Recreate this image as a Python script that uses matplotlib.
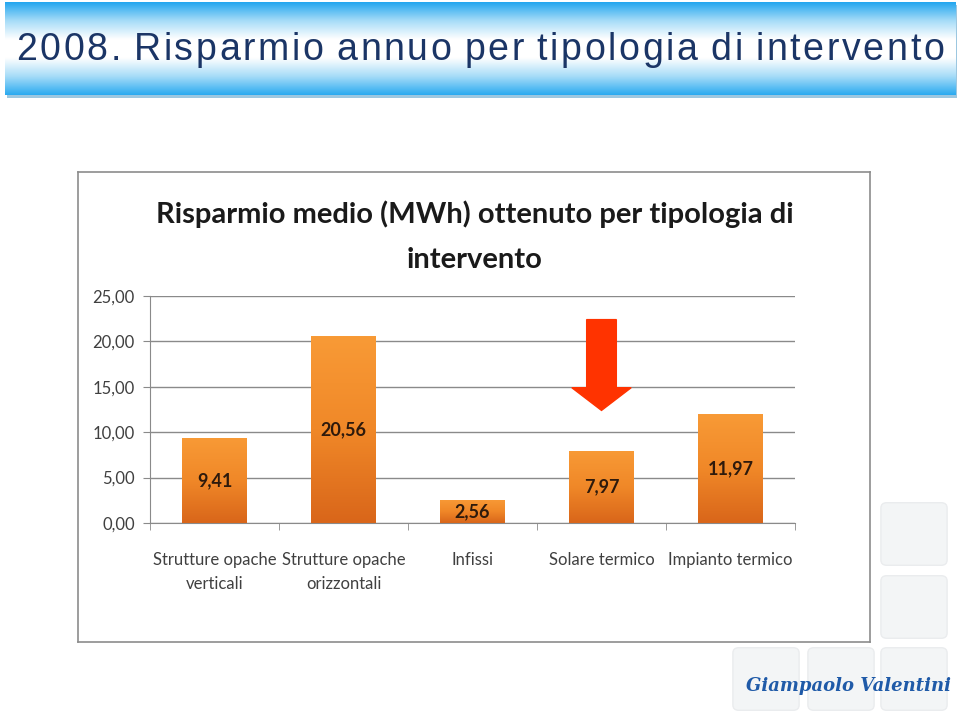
import numpy as np
import matplotlib
matplotlib.use("Agg")
import matplotlib.pyplot as plt
from matplotlib.patches import Rectangle, FancyBboxPatch, FancyArrow
from matplotlib.colors import LinearSegmentedColormap

# data
categories = ["Strutture opache\nverticali", "Strutture opache\norizzontali",
              "Infissi", "Solare termico", "Impianto termico"]
values = [9.41, 20.56, 2.56, 7.97, 11.97]
yticks = [0, 5, 10, 15, 20, 25]
highlight = 3  # "Solare termico"
header = "2008. Risparmio annuo per tipologia di intervento"

calib = ["Lato", "DejaVu Sans"]

fig = plt.figure(figsize=(9.6, 7.16), dpi=100)
W, H = 960, 716

def box(x0, y0, x1, y1):
    # pixel box (top-left origin) -> figure rect
    return [x0 / W, 1 - y1 / H, (x1 - x0) / W, (y1 - y0) / H]

# header banner with blue gradient
shadow = fig.add_axes(box(7, 5, 957, 98))
shadow.axis("off")
shadow.add_patch(Rectangle((0, 0), 1, 1, color="#9cc7e0", transform=shadow.transAxes))
hdr = fig.add_axes(box(5, 2, 955, 95))
hdr.axis("off")
blue = LinearSegmentedColormap.from_list("b", ["#22a6ef", "#a6dcf8", "#ffffff", "#ffffff", "#a6dcf8", "#2aaaf0"])
hdr.imshow(np.linspace(0, 1, 256)[:, None], aspect="auto", cmap=blue, extent=[0, 1, 0, 1])
hdr.set_xlim(0, 1)
hdr.set_ylim(0, 1)

# header text, letter-spaced: place each char and stretch to the banner width
renderer = fig.canvas.get_renderer()
chars = []
for c in header:
    t = fig.text(0, 1 - 50 / H, c, fontsize=27, color="#1b3566",
                 family=["Liberation Sans", "DejaVu Sans"], ha="left", va="center")
    chars.append(t)
widths = []
for c, t in zip(header, chars):
    if c == " ":
        widths.append(7.5)
    else:
        widths.append(t.get_window_extent(renderer).width)
x_start, x_end = 16, 944
extra = (x_end - x_start - sum(widths)) / (len(header) - 1)
xp = x_start
for t, w in zip(chars, widths):
    t.set_x(xp / W)
    xp += w + extra

# decorative squares bottom right
for (x0, y0) in [(878, 500), (878, 573), (878, 645), (805, 645), (730, 645)]:
    sq = fig.add_axes(box(x0, y0, x0 + 72, y0 + 68))
    sq.axis("off")
    sq.add_patch(FancyBboxPatch((0.04, 0.04), 0.92, 0.92, boxstyle="round,pad=0,rounding_size=0.08",
                                fc="#f3f5f6", ec="#eaecee", lw=1, transform=sq.transAxes))
fig.text(848 / W, 1 - 686 / H, "Giampaolo Valentini", fontsize=13, color="#1f5aa8",
         style="italic", weight="bold", family=["DejaVu Serif"], ha="center", va="center")

# chart frame
frame = fig.add_axes(box(78, 172, 870, 642))
frame.set_xticks([])
frame.set_yticks([])
for s in frame.spines.values():
    s.set_color("#8c8c8c")
    s.set_linewidth(1.2)
fig.text(475 / W, 1 - 214 / H, "Risparmio medio (MWh) ottenuto per tipologia di",
         fontsize=21, weight="bold", color="#1a1a1a", family=calib, ha="center", va="center")
fig.text(475 / W, 1 - 260 / H, "intervento",
         fontsize=21, weight="bold", color="#1a1a1a", family=calib, ha="center", va="center")

# plot area
ax = fig.add_axes(box(150, 296, 795, 523))
ax.set_facecolor("none")
x = np.arange(len(values))
ax.set_xlim(-0.5, len(values) - 0.5)
ax.set_ylim(0, 25)
ax.set_yticks(yticks)
ax.set_yticklabels([f"{v:.2f}".replace(".", ",") for v in yticks], family=calib,
                   fontsize=12, color="#404040")
ax.yaxis.grid(True, color="#8a8a8a", lw=1)
ax.set_axisbelow(True)
ax.tick_params(axis="y", length=5, color="#8a8a8a", pad=6)
ax.set_xticks(np.arange(len(values) + 1) - 0.5, minor=True)
ax.tick_params(axis="x", which="minor", length=5, color="#8a8a8a", direction="out")
ax.set_xticks(x)
ax.set_xticklabels(categories, family=calib, fontsize=12, color="#404040", linespacing=1.6)
ax.tick_params(axis="x", which="major", length=0, pad=21)
for k in ["top", "right"]:
    ax.spines[k].set_visible(False)
for k in ["left", "bottom"]:
    ax.spines[k].set_color("#8a8a8a")

orange = LinearSegmentedColormap.from_list("o", ["#d9661a", "#f08828", "#f89a36"])
bars = ax.bar(x, values, width=0.5, color="none", edgecolor="none", zorder=3)
for b, v in zip(bars, values):
    x0, w = b.get_x(), b.get_width()
    im = ax.imshow(np.linspace(0, 1, 100)[:, None], cmap=orange, origin="lower", aspect="auto",
                   extent=[x0, x0 + w, 0, v], zorder=3)
    im.set_clip_path(b)
    ax.text(x0 + w / 2, v / 2, f"{v:.2f}".replace(".", ","), ha="center", va="center",
            fontsize=13, weight="bold", color="#2e1a0c", family=calib, zorder=4)
ax.set_xlim(-0.5, len(values) - 0.5)
ax.set_ylim(0, 25)

# red arrow over the highlighted category
ax.add_patch(FancyArrow(x[highlight], 22.4, 0, -10.0, width=0.23, head_width=0.46,
                        head_length=2.5, length_includes_head=True, color="#ff3300",
                        zorder=5, clip_on=False))

fig.savefig("out.png", dpi=100)
